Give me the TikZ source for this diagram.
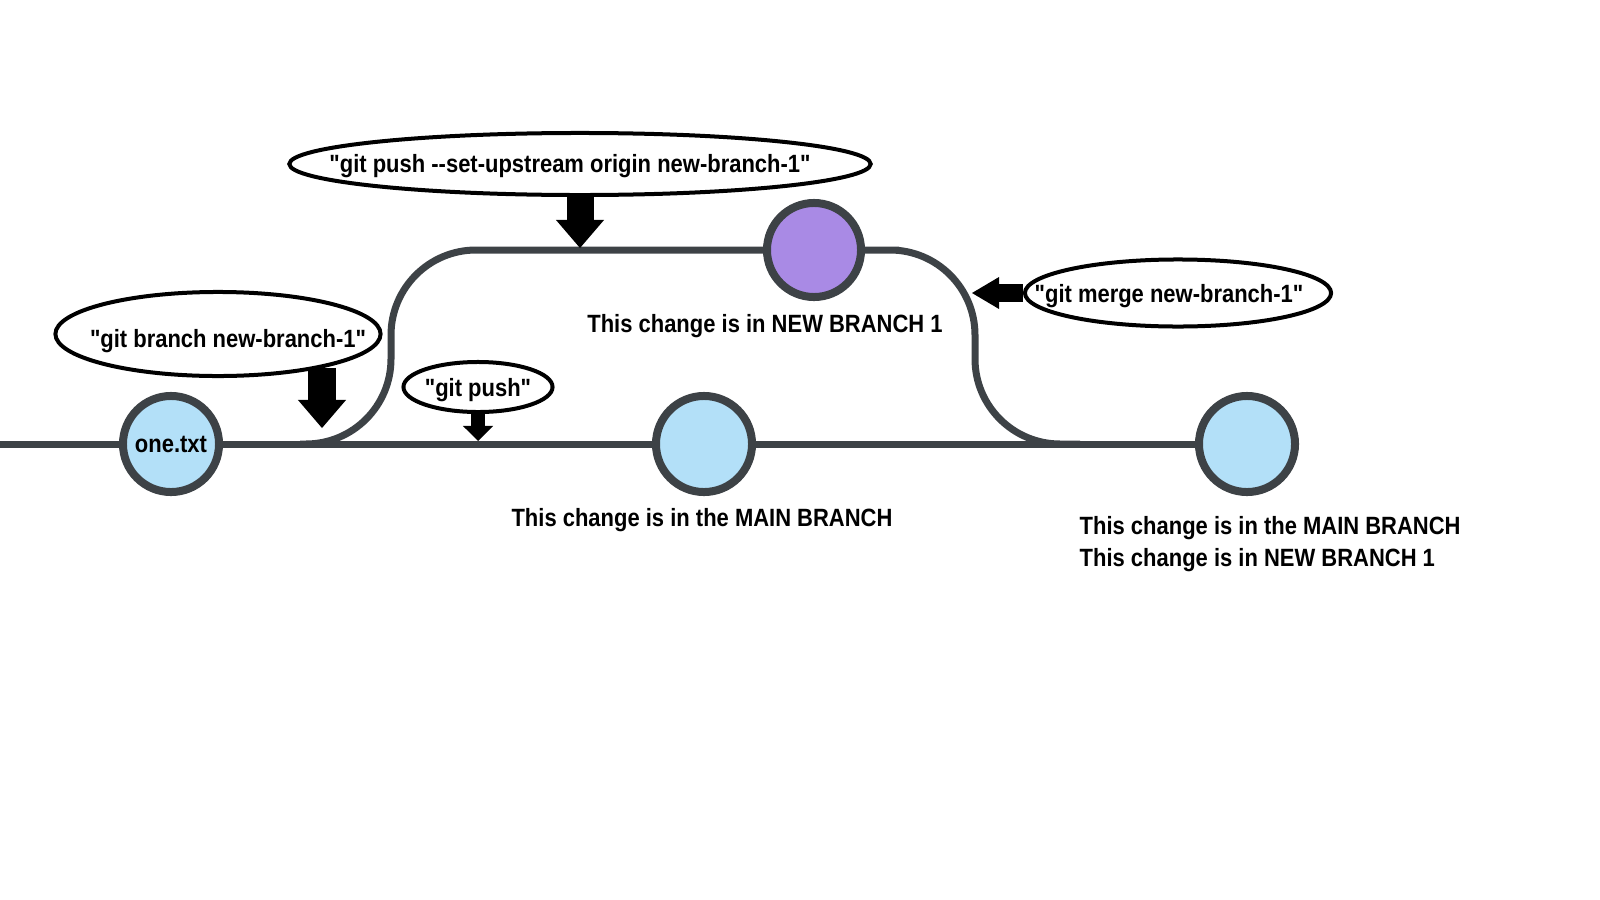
\documentclass[tikz,border=0pt]{standalone}
\usepackage{fontspec}
\setmainfont{Liberation Sans}[Ligatures=TeXOff, FakeStretch=0.88]
\usetikzlibrary{shapes.geometric, arrows.meta, backgrounds}
\definecolor{linegray}{HTML}{3D4246}
\definecolor{commitblue}{HTML}{B3E0F8}
\definecolor{commitpurple}{HTML}{A98AE5}
% text set off-centre inside a bubble: #1 twice the x shift, #2 baseline drop
\newcommand{\cmdtext}[3]{\raisebox{-#2}[0pt][0pt]{\makebox[0pt]{\hspace*{#1}#3}}}

\begin{document}
\begin{tikzpicture}[x=0.01cm, y=-0.01cm,
    font=\bfseries\fontsize{7.1}{9.1}\selectfont,
    commit/.style={circle, draw=linegray, line width=0.08cm, fill=commitblue,
      minimum size=0.96cm, inner sep=0pt},
    cmd/.style={ellipse, draw=black, line width=0.04cm, inner sep=0pt},
    branchline/.style={draw=linegray, line width=0.07cm},
    pointer/.style={-{Triangle[width=0.48cm, length=0.28cm, line width=0pt]},
      line width=0.27cm},
    smallpointer/.style={-{Triangle[width=0.30cm, length=0.15cm, line width=0pt]},
      line width=0.14cm},
  ]
\useasboundingbox (0,0) rectangle (1600,900);

% commits
\node[commit] (c1) at (171,444) {\cmdtext{0cm}{0.085cm}{one.txt}};
\node[commit] (c2) at (704,444) {};
\node[commit] (c3) at (1247,444) {};
\node[commit, fill=commitpurple, minimum size=0.94cm] (p1) at (814,250) {};

% commands
\node[cmd, minimum width=3.25cm, minimum height=0.84cm] (branchcmd) at (218,334)
  {\cmdtext{0.2cm}{0.135cm}{"git branch new-branch-1"}};
\node[cmd, minimum width=5.81cm, minimum height=0.62cm] (pushup) at (580,164)
  {\cmdtext{-0.2cm}{0.085cm}{"git push --set-upstream origin new-branch-1"}};
\node[cmd, minimum width=1.49cm, minimum height=0.50cm] (pushcmd) at (478,387)
  {\cmdtext{0cm}{0.095cm}{"git push"}};
\node[cmd, minimum width=3.06cm, minimum height=0.67cm] (mergecmd) at (1178,293)
  {\cmdtext{-0.18cm}{0.095cm}{"git merge new-branch-1"}};

% labels
\node[inner sep=0pt] (newtxt) at (765,326) {This change is in NEW BRANCH 1};
\node[inner sep=0pt] (maintxt) at (702,520) {This change is in the MAIN BRANCH};
\node[inner sep=0pt, anchor=west, align=left] (bothtxt) at (1079,544)
  {This change is in the MAIN BRANCH\\This change is in NEW BRANCH 1};

% branches
\coordinate (start) at (0,444);
\coordinate (fork) at (300,444);
\coordinate (join) at (1080,444);
\begin{scope}[on background layer]
  \draw[branchline] (start) -- (c1.center) -- (c2.center) -- (c3.center);
  \draw[branchline, rounded corners=0.85cm] (fork) -- (391,444) -- (391,250)
    -- (p1.center) -- (975,250) -- (975,444) -- (join);
\end{scope}

% arrows
\coordinate (branchtip) at (322,428);
\coordinate (uptip) at (580,248);
\coordinate (pushtip) at (478,441);
\coordinate (mergetip) at (972,293);
\draw[pointer] (branchtip |- branchcmd.-18) -- (branchtip);
\draw[pointer] (pushup.south) -- (uptip);
\draw[smallpointer] (pushcmd.south) -- (pushtip);
\draw[pointer, -{Triangle[width=0.32cm, length=0.27cm, line width=0pt]},
  line width=0.17cm] (mergecmd.west) -- (mergetip);
\end{tikzpicture}
\end{document}
